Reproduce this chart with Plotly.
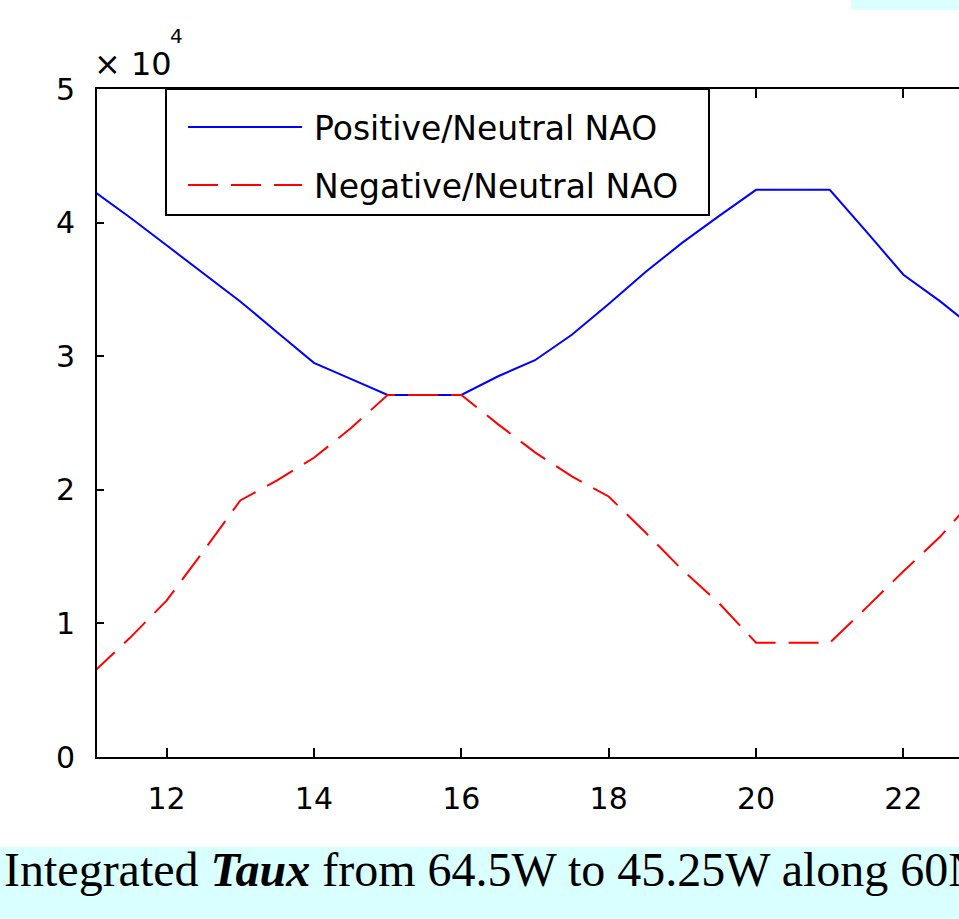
import plotly.graph_objects as go

# ---------------- data ----------------
x_vals = [11, 11.5, 12, 12.5, 13, 13.5, 14, 14.5, 15, 15.5, 16, 16.5, 17, 17.5,
          18, 18.5, 19, 19.5, 20, 20.5, 21, 21.5, 22, 22.5, 23]
positive_nao = [42400, 40400, 38300, 36200, 34100, 31800, 29500, 28300, 27100, 27100,
                27100, 28500, 29700, 31600, 33900, 36300, 38500, 40500, 42450, 42450,
                42450, 39300, 36100, 34100, 31900]
negative_nao = [6300, 8900, 11700, 15400, 19200, 20700, 22400, 24600, 27100, 27100,
                27100, 24900, 22800, 21000, 19500, 16800, 14000, 11500, 8550, 8550,
                8550, 11200, 13900, 16500, 19600]
series_names = ["Positive/Neutral NAO", "Negative/Neutral NAO"]
x_tick_vals = [12, 14, 16, 18, 20, 22]
y_tick_vals = [0, 10000, 20000, 30000, 40000, 50000]
y_tick_text = ["0", "1", "2", "3", "4", "5"]
caption = "Integrated <b><i>Taux</i></b> from 64.5W to 45.25W along 60N"

# ---------------- layout helpers ----------------
W, H = 959, 919
L, R, T, B = 97, 0, 89, 162
PW, PH = W - L - R, H - T - B


def px(x):
    return (x - L) / PW


def py(y):
    return (H - B - y) / PH


TICK_FONT = dict(family="DejaVu Sans", size=30, color="black")

fig = go.Figure()
fig.add_trace(go.Scatter(x=x_vals, y=positive_nao, mode="lines", name=series_names[0],
                         line=dict(color="#0000FF", width=2), showlegend=False))
fig.add_trace(go.Scatter(x=x_vals, y=negative_nao, mode="lines", name=series_names[1],
                         line=dict(color="#FF0000", width=2, dash="30px,13px"),
                         showlegend=False))

shapes = [
    # caption band
    dict(type="rect", xref="paper", yref="paper", x0=px(-2), x1=px(962), y0=py(922), y1=py(847),
         fillcolor="#D9FFFF", line=dict(width=0), layer="below"),
    # top-right cyan box
    dict(type="rect", xref="paper", yref="paper", x0=px(851), x1=px(962), y0=py(10), y1=py(-2),
         fillcolor="#D9FFFF", line=dict(width=0), layer="below"),
    # legend box
    dict(type="rect", xref="paper", yref="paper", x0=px(166), x1=px(709), y0=py(215), y1=py(89),
         fillcolor="white", line=dict(color="black", width=2)),
    dict(type="line", xref="paper", yref="paper", x0=px(188), x1=px(302), y0=py(127), y1=py(127),
         line=dict(color="#0000FF", width=2)),
    dict(type="line", xref="paper", yref="paper", x0=px(188), x1=px(302), y0=py(185), y1=py(185),
         line=dict(color="#FF0000", width=2, dash="30px,13px")),
]

LEGEND_FONT = dict(family="DejaVu Sans", size=33, color="black")
annotations = [
    dict(text=series_names[0], xref="paper", yref="paper", x=px(312), y=py(128),
         xanchor="left", yanchor="middle", showarrow=False, font=LEGEND_FONT),
    dict(text=series_names[1], xref="paper", yref="paper", x=px(312), y=py(186),
         xanchor="left", yanchor="middle", showarrow=False, font=LEGEND_FONT),
    dict(text="× 10", xref="paper", yref="paper", x=px(92), y=py(64),
         xanchor="left", yanchor="middle", showarrow=False,
         font=dict(family="DejaVu Sans", size=32, color="black")),
    dict(text="4", xref="paper", yref="paper", x=px(168), y=py(36),
         xanchor="left", yanchor="middle", showarrow=False,
         font=dict(family="DejaVu Sans", size=20, color="black")),
    dict(text=caption, xref="paper", yref="paper", x=px(2), y=py(869),
         xanchor="left", yanchor="middle", showarrow=False,
         font=dict(family="Liberation Serif", size=48, color="black")),
]

fig.update_layout(
    width=W, height=H,
    margin=dict(l=L, r=R, t=T, b=B, pad=0),
    paper_bgcolor="white", plot_bgcolor="white",
    shapes=shapes, annotations=annotations,
    showlegend=False,
)
fig.update_xaxes(range=[11.056, 22.754], tickvals=x_tick_vals, ticks="inside", ticklen=9,
                 tickwidth=2, tickcolor="black", showline=True, linecolor="black", linewidth=2,
                 mirror="ticks", showgrid=False, zeroline=False, tickfont=TICK_FONT,
                 ticklabelstandoff=14)
fig.update_yaxes(range=[0, 50000], tickvals=y_tick_vals, ticktext=y_tick_text, ticks="inside",
                 ticklen=7, tickwidth=2, tickcolor="black", showline=True, linecolor="black",
                 linewidth=2, mirror=False, showgrid=False, zeroline=False, tickfont=TICK_FONT,
                 ticklabelstandoff=14)

fig.write_html(
    "out.html",
    config={"displayModeBar": False},
    post_script=("document.documentElement.style.margin='0';"
                 "document.body.style.margin='0';document.body.style.padding='0';"
                 "document.body.style.overflow='hidden';"),
)
